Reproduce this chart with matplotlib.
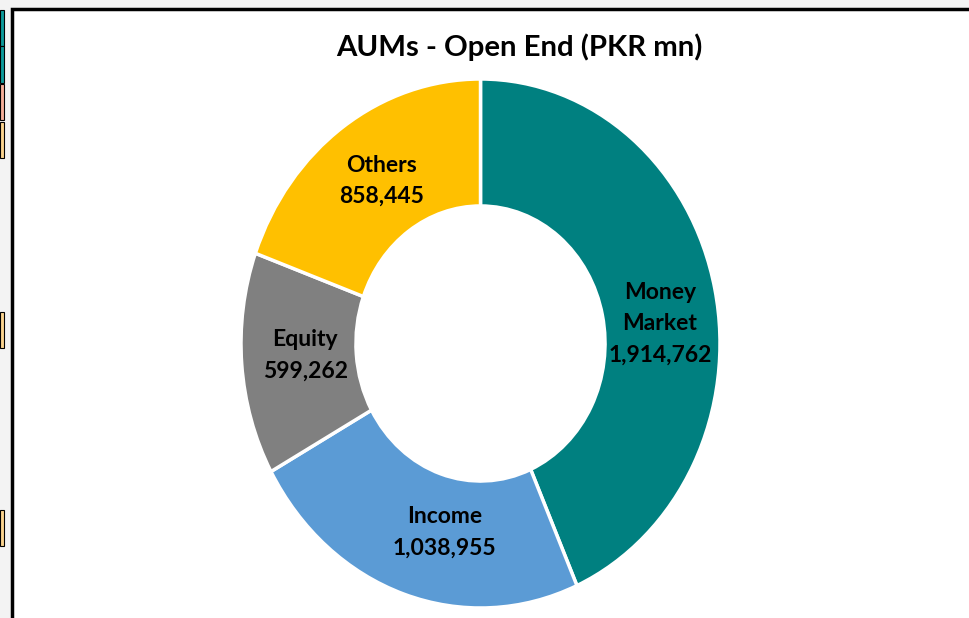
import matplotlib.pyplot as plt
from matplotlib.patches import Rectangle

categories = ["Money\nMarket", "Income", "Equity", "Others"]
aums = [1914762, 1038955, 599262, 858445]
colors = ["#008080", "#5B9BD5", "#808080", "#FFC000"]
title = "AUMs - Open End (PKR mn)"

W, H = 969, 618
fig = plt.figure(figsize=(W / 100, H / 100), dpi=100)
fig.patch.set_facecolor("#F3F3F3")

# chart box (white with black frame)
fig.patches.append(Rectangle((12 / W, -0.05), 1, 1.05 - 9 / H, transform=fig.transFigure,
                             facecolor="white", edgecolor="black", linewidth=2.5, zorder=0))
# sliver of spreadsheet cells on the left edge
cells = [(10, 46, "#0E9A9A"), (46, 83, "#0E9A9A"), (84, 120, "#F4AE98"), (122, 158, "#FAD38E"),
         (312, 348, "#FAD38E"), (510, 546, "#FAD38E")]
for top, bot, c in cells:
    fig.patches.append(Rectangle((0, 1 - bot / H), 4 / W, (bot - top) / H,
                                 transform=fig.transFigure, facecolor=c,
                                 edgecolor="black", linewidth=0.8))

# donut axes: spans the pie's bounding box so it comes out slightly taller than wide
ax = fig.add_axes([241 / W, 1 - 608 / H, 479 / W, 529 / H])
ax.set_zorder(3)
wedges, _ = ax.pie(aums, colors=colors, startangle=90, counterclock=False, radius=1,
                   wedgeprops=dict(width=0.48, edgecolor="white", linewidth=2.5))
ax.set_aspect("auto")
ax.set_xlim(-1, 1)
ax.set_ylim(-1, 1)
ax.axis("off")

label_pos = [(0.749, 0.075), (-0.15, -0.715), (-0.732, -0.045), (-0.415, 0.615)]
for name, val, (x, y) in zip(categories, aums, label_pos):
    ax.text(x, y, f"{name}\n{val:,}", ha="center", va="center", fontsize=16.5,
            fontweight="bold", family="Lato", color="black", linespacing=1.62)

fig.text(519 / W, 1 - 47 / H, title, ha="center", va="center", fontsize=21.2,
         fontweight="bold", family="Lato", zorder=4)

fig.savefig("out.png", dpi=100)
